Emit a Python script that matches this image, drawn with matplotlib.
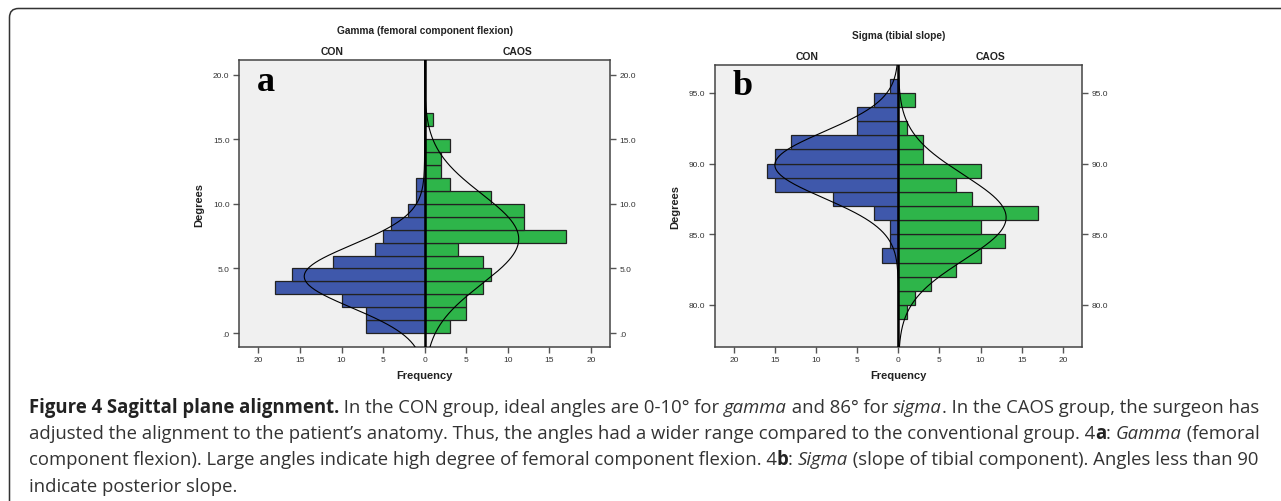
import numpy as np
import matplotlib
matplotlib.use('Agg')
import matplotlib.pyplot as plt
from matplotlib.path import Path
from matplotlib.patches import PathPatch
from matplotlib.ticker import FuncFormatter

W, H = 1281, 502

# histogram data, bins of 1 degree, lower edges
gamma_edges = np.arange(0, 17)
gamma_con = [7, 7, 10, 18, 16, 11, 6, 5, 4, 2, 1, 1, 0, 0, 0, 0, 0]
gamma_caos = [3, 5, 5, 7, 8, 7, 4, 17, 12, 12, 8, 3, 2, 2, 3, 0, 1]

sigma_edges = np.arange(79, 96)
sigma_con = [0, 0, 0, 0, 2, 1, 1, 3, 8, 15, 16, 15, 13, 5, 5, 3, 1]
sigma_caos = [1, 2, 4, 7, 10, 13, 10, 17, 9, 7, 10, 3, 3, 1, 0, 2, 0]

gamma_yticks = [0, 5, 10, 15, 20]
sigma_yticks = [80, 85, 90, 95]
freq_ticks = [-20, -15, -10, -5, 0, 5, 10, 15, 20]

blue = '#3f58ab'
green = '#2eb54a'
bg = '#f0f0f0'


def spss_fmt(v, pos):
    s = '%.1f' % v
    if s.startswith('0.'):
        s = s[1:]
    return s


def normal_curve(edges, counts, y):
    c = np.asarray(edges) + 0.5
    n = np.asarray(counts, dtype=float)
    N = n.sum()
    m = (c * n).sum() / N
    sd = np.sqrt((n * (c - m) ** 2).sum() / (N - 1))
    return N / (sd * np.sqrt(2 * np.pi)) * np.exp(-0.5 * ((y - m) / sd) ** 2)


def panel(ax, edges, con, caos, ylim, yticks, title, letter):
    ax.set_facecolor(bg)
    centers = np.asarray(edges) + 0.5
    con = np.asarray(con)
    caos = np.asarray(caos)
    k = con > 0
    ax.barh(centers[k], -con[k], height=1, color=blue, edgecolor='#222222', linewidth=0.9, zorder=2)
    k = caos > 0
    ax.barh(centers[k], caos[k], height=1, color=green, edgecolor='#222222', linewidth=0.9, zorder=2)
    y = np.linspace(ylim[0], ylim[1], 400)
    ax.plot(-normal_curve(edges, con, y), y, color='black', lw=0.8, zorder=3)
    ax.plot(normal_curve(edges, caos, y), y, color='black', lw=0.8, zorder=3)
    ax.axvline(0, color='black', lw=1.8, zorder=4)
    ax.set_xlim(-22.3, 22.3)
    ax.set_ylim(*ylim)
    ax.set_xticks(freq_ticks)
    ax.set_xticklabels([str(abs(t)) for t in freq_ticks])
    ax.set_yticks(yticks)
    ax.yaxis.set_major_formatter(FuncFormatter(spss_fmt))
    ax.tick_params(axis='both', labelsize=6, colors='#555555', labelcolor='#333333',
                   length=4, width=1, pad=2)
    ax.tick_params(axis='y', right=True, labelright=True, pad=3)
    for s in ax.spines.values():
        s.set_color('#444444')
        s.set_linewidth(1.1)
    ax.set_xlabel('Frequency', fontsize=8, fontweight='bold', color='#222222', labelpad=5)
    ax.set_ylabel('Degrees', fontsize=8, fontweight='bold', color='#222222', labelpad=6)
    ax.text(0.5, 1 + 30.5 / 287, title, transform=ax.transAxes, ha='center', va='center',
            fontsize=7.3, fontweight='bold', color='#222222')
    ax.text(0.25, 1 + 9 / 287, 'CON', transform=ax.transAxes, ha='center', va='center',
            fontsize=7.5, fontweight='bold', color='#222222')
    ax.text(0.75, 1 + 9 / 287, 'CAOS', transform=ax.transAxes, ha='center', va='center',
            fontsize=7.5, fontweight='bold', color='#222222')
    ax.text(0.048, 0.895, letter, transform=ax.transAxes, ha='left', va='baseline',
            fontsize=26, fontweight='bold', family='Liberation Serif', color='black')


fig = plt.figure(figsize=(W / 100, H / 100), dpi=100)
plt.rcParams['font.family'] = ['Liberation Sans', 'DejaVu Sans']

ax1 = fig.add_axes([239.3 / W, 1 - 348.3 / H, 370.7 / W, 287 / H])
panel(ax1, gamma_edges, gamma_con, gamma_caos, (-1.1, 21.1), gamma_yticks,
      'Gamma (femoral component flexion)', 'a')
ax2 = fig.add_axes([715 / W, 1 - 348.3 / H, 366.7 / W, 282.6 / H])
panel(ax2, sigma_edges, sigma_con, sigma_caos, (77, 97), sigma_yticks,
      'Sigma (tibial slope)', 'b')

# border with rounded top-left corner
r = 9
x0, y0 = 9.5, 9.5
verts = [(x0, H), (x0, y0 + r), (x0, y0), (x0 + r, y0), (W, y0)]
codes = [Path.MOVETO, Path.LINETO, Path.CURVE3, Path.CURVE3, Path.LINETO]
verts = [(vx / W, 1 - vy / H) for vx, vy in verts]
fig.patches.append(PathPatch(Path(verts, codes), transform=fig.transFigure,
                             fill=False, edgecolor='#333333', lw=1.1))

# caption
caption = [
    [('Figure 4 Sagittal plane alignment.', 'b'), (' In the CON group, ideal angles are 0-10° for ', 'n'),
     ('gamma', 'i'), (' and 86° for ', 'n'), ('sigma', 'i'),
     ('. In the CAOS group, the surgeon has', 'n')],
    [('adjusted the alignment to the patient’s anatomy. Thus, the angles had a wider range compared to the conventional group. 4', 'n'),
     ('a', 'b'), (': ', 'n'), ('Gamma', 'i'), (' (femoral', 'n')],
    [('component flexion). Large angles indicate high degree of femoral component flexion. 4', 'n'),
     ('b', 'b'), (': ', 'n'), ('Sigma', 'i'), (' (slope of tibial component). Angles less than 90', 'n')],
    [('indicate posterior slope.', 'n')],
]
baselines = [413.3, 439.4, 465.5, 491.6]
cap_font = ['Open Sans', 'DejaVu Sans']
renderer = fig.canvas.get_renderer()


def style_kw(st, size):
    kw = dict(fontsize=size, family=cap_font, color='#333333')
    if st == 'b':
        kw['fontweight'] = 'bold'
        kw['color'] = '#222222'
    if st == 'i':
        kw['fontstyle'] = 'italic'
    return kw


def advance(s, st, size):
    t1 = fig.text(0, 0, 'x' + s + 'x', **style_kw(st, size))
    t2 = fig.text(0, 0, 'xx', **style_kw(st, size))
    w = t1.get_window_extent(renderer).width - t2.get_window_extent(renderer).width
    t1.remove()
    t2.remove()
    return w


size = 10.0
w1 = sum(advance(s, st, size) for s, st in caption[0])
size = size * 1233.0 / w1

for parts, yb in zip(caption, baselines):
    x = 29.0
    for s, st in parts:
        fig.text(x / W, 1 - yb / H, s, va='baseline', ha='left', **style_kw(st, size))
        x += advance(s, st, size)

fig.savefig('out.png', dpi=100)
